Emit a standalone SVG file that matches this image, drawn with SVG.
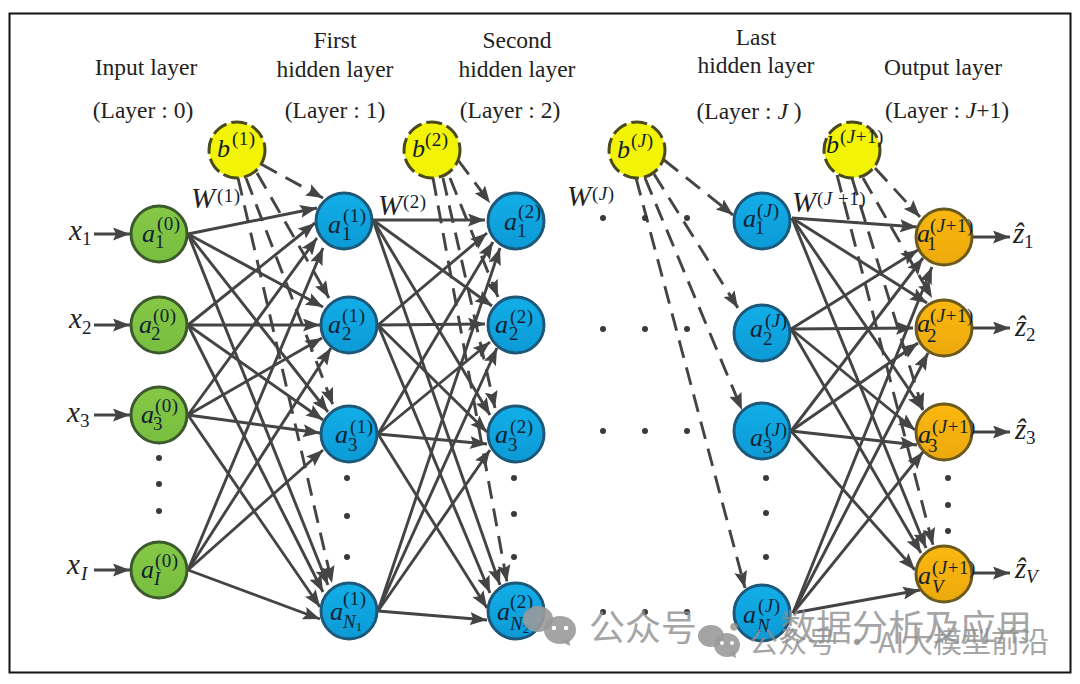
<svg xmlns="http://www.w3.org/2000/svg" width="1080" height="684" viewBox="0 0 1080 684">
<style>
.h{font-family:"Liberation Serif",serif;font-size:23.5px;fill:#222;text-anchor:middle}
.m{font-family:"Liberation Serif",serif;font-style:italic;font-size:26px;fill:#123}
.w0{font-family:"Liberation Serif",serif;font-style:italic;font-size:29px;fill:#222}
.s{font-family:"Liberation Serif",serif;font-size:19px;letter-spacing:.5px;fill:#123}
.si{font-family:"Liberation Serif",serif;font-style:italic;font-size:19px;fill:#123}
.c line{stroke:#444;stroke-width:2.9;marker-end:url(#ah)}
.d line{stroke:#444;stroke-width:2.9;stroke-dasharray:18 10;marker-end:url(#ah)}
.g{fill:url(#gg);stroke:#3d5a2e;stroke-width:3}
.b{fill:url(#gb);stroke:#1d5878;stroke-width:3}
.o{fill:url(#go);stroke:#6a5a1e;stroke-width:3}
.y{fill:#f3f305;stroke:#4a4a20;stroke-width:3;stroke-dasharray:16 5}
.dot{fill:#3a3a3a}
.w{font-family:"Noto Sans CJK SC","Liberation Sans",sans-serif;fill:#8f8f8f;opacity:.8}
.wi{fill:#9a9a9a;opacity:.9}
.we{fill:#fff}
</style>
<defs>
<marker id="ah" markerUnits="userSpaceOnUse" markerWidth="17" markerHeight="13" viewBox="0 0 17 13" refX="17" refY="6.5" orient="auto"><path d="M0,0L17,6.5L0,13L3,6.5z" fill="#444"/></marker>
<linearGradient id="gg" x1="0" y1="0" x2="0" y2="1"><stop offset="0" stop-color="#86c846"/><stop offset="1" stop-color="#78be3f"/></linearGradient>
<linearGradient id="gb" x1="0" y1="0" x2="0" y2="1"><stop offset="0" stop-color="#12aee8"/><stop offset="1" stop-color="#0c9ad6"/></linearGradient>
<linearGradient id="go" x1="0" y1="0" x2="0" y2="1"><stop offset="0" stop-color="#fbb80f"/><stop offset="1" stop-color="#eca90c"/></linearGradient>
</defs>
<rect x="9.5" y="13.5" width="1061" height="659" fill="#fff" stroke="#111" stroke-width="2"/>
<g id="headers">
<text class="h" x="146" y="75">Input layer</text><text class="h" x="143" y="118">(Layer : 0)</text>
<text class="h" x="335" y="48">First</text><text class="h" x="335" y="77">hidden layer</text><text class="h" x="335" y="118">(Layer : 1)</text>
<text class="h" x="517" y="48">Second</text><text class="h" x="517" y="77">hidden layer</text><text class="h" x="510" y="118">(Layer : 2)</text>
<text class="h" x="756" y="45">Last</text><text class="h" x="756" y="73">hidden layer</text><text class="h" x="749" y="119">(Layer : <tspan font-style="italic">J</tspan> )</text>
<text class="h" x="943" y="75">Output layer</text><text class="h" x="947" y="118">(Layer : <tspan font-style="italic">J</tspan>+1)</text>
</g>
<g id="connectors">
<g class="d">
<line x1="261" y1="164" x2="323" y2="198"/><line x1="257" y1="173" x2="329" y2="298"/><line x1="246" y1="178" x2="333" y2="405"/><line x1="238" y1="178" x2="332" y2="583"/>
<line x1="458" y1="160" x2="490" y2="203"/><line x1="450" y1="178" x2="498" y2="297"/><line x1="443" y1="178" x2="495" y2="408"/><line x1="433" y1="178" x2="507" y2="582"/>
<line x1="664" y1="160" x2="733" y2="215"/><line x1="654" y1="174" x2="738" y2="308"/><line x1="645" y1="178" x2="742" y2="410"/><line x1="636" y1="178" x2="745" y2="588"/>
<line x1="875" y1="168" x2="920" y2="217"/><line x1="863" y1="178" x2="932" y2="298"/><line x1="852" y1="178" x2="923" y2="410"/><line x1="837" y1="175" x2="933" y2="545"/>
</g>
<g class="c">
<line x1="188" y1="234" x2="317" y2="208"/><line x1="188" y1="234" x2="323" y2="307"/><line x1="188" y1="234" x2="328" y2="412"/><line x1="188" y1="234" x2="328" y2="585"/>
<line x1="188" y1="325" x2="315" y2="223"/><line x1="188" y1="325" x2="320" y2="325"/><line x1="188" y1="325" x2="323" y2="420"/><line x1="188" y1="325" x2="323" y2="592"/>
<line x1="188" y1="415" x2="317" y2="238"/><line x1="188" y1="415" x2="322" y2="338"/><line x1="188" y1="415" x2="320" y2="433"/><line x1="188" y1="415" x2="320" y2="607"/>
<line x1="188" y1="570" x2="323" y2="248"/><line x1="188" y1="570" x2="331" y2="348"/><line x1="188" y1="570" x2="323" y2="450"/><line x1="188" y1="570" x2="320" y2="619"/>
<line x1="373" y1="220" x2="485" y2="220"/><line x1="373" y1="220" x2="492" y2="306"/><line x1="373" y1="220" x2="490" y2="415"/><line x1="373" y1="220" x2="500" y2="585"/>
<line x1="378" y1="325" x2="487" y2="233"/><line x1="378" y1="325" x2="485" y2="324"/><line x1="378" y1="325" x2="487" y2="432"/><line x1="378" y1="325" x2="490" y2="593"/>
<line x1="378" y1="434" x2="493" y2="242"/><line x1="378" y1="434" x2="490" y2="342"/><line x1="378" y1="434" x2="487" y2="444"/><line x1="378" y1="434" x2="487" y2="608"/>
<line x1="378" y1="611" x2="500" y2="248"/><line x1="378" y1="611" x2="497" y2="348"/><line x1="378" y1="611" x2="490" y2="450"/><line x1="378" y1="611" x2="487" y2="620"/>
<line x1="792" y1="218" x2="917" y2="227"/><line x1="792" y1="218" x2="927" y2="303"/><line x1="792" y1="218" x2="923" y2="410"/><line x1="792" y1="218" x2="926" y2="548"/>
<line x1="791" y1="329" x2="918" y2="250"/><line x1="791" y1="329" x2="913" y2="328"/><line x1="791" y1="329" x2="915" y2="430"/><line x1="791" y1="329" x2="921" y2="553"/>
<line x1="791" y1="431" x2="923" y2="258"/><line x1="791" y1="431" x2="918" y2="343"/><line x1="791" y1="431" x2="917" y2="445"/><line x1="791" y1="431" x2="915" y2="570"/>
<line x1="793" y1="613" x2="932" y2="267"/><line x1="793" y1="613" x2="928" y2="353"/><line x1="793" y1="613" x2="923" y2="452"/><line x1="793" y1="613" x2="920" y2="590"/>
<line x1="94" y1="234" x2="130" y2="234"/><line x1="94" y1="325" x2="130" y2="325"/><line x1="94" y1="415" x2="130" y2="415"/><line x1="94" y1="570" x2="130" y2="570"/>
<line x1="973" y1="237" x2="1010" y2="237"/><line x1="973" y1="328" x2="1010" y2="328"/><line x1="973" y1="432" x2="1010" y2="432"/><line x1="973" y1="573" x2="1010" y2="573"/>
</g>
</g>
<g id="b1"><circle class="y" cx="237" cy="150" r="28"/><text class="m" x="217" y="157">b</text><text class="s" x="232" y="145">(1)</text></g>
<g id="b2"><circle class="y" cx="432" cy="150" r="28"/><text class="m" x="412" y="157">b</text><text class="s" x="425" y="146">(2)</text></g>
<g id="bJ"><circle class="y" cx="637" cy="150" r="28"/><text class="m" x="617" y="158">b</text><text class="s" x="631" y="147">(<tspan font-style="italic">J</tspan>)</text></g>
<g id="bJ1"><circle class="y" cx="852" cy="150" r="28"/><text class="m" x="826" y="153">b</text><text class="s" x="840" y="143">(<tspan font-style="italic">J</tspan>+1)</text></g>
<g id="i1"><circle class="g" cx="159" cy="234" r="28"/><text class="m" x="142" y="242">a</text><text class="s" x="157" y="230">(0)</text><text class="s" x="155" y="248">1</text></g>
<g id="i2"><circle class="g" cx="159" cy="325" r="28"/><text class="m" x="139" y="333">a</text><text class="s" x="153" y="322">(0)</text><text class="s" x="151" y="340">2</text></g>
<g id="i3"><circle class="g" cx="159" cy="415" r="28"/><text class="m" x="141" y="423">a</text><text class="s" x="155" y="412">(0)</text><text class="s" x="153" y="430">3</text></g>
<g id="iI"><circle class="g" cx="159" cy="570" r="28"/><text class="m" x="141" y="578">a</text><text class="s" x="155" y="567">(0)</text><text class="si" x="154" y="585">I</text></g>
<g id="h11"><circle class="b" cx="344" cy="221" r="28"/><text class="m" x="328" y="233">a</text><text class="s" x="343" y="222">(1)</text><text class="s" x="342" y="240">1</text></g>
<g id="h12"><circle class="b" cx="349" cy="325" r="28"/><text class="m" x="328" y="333">a</text><text class="s" x="342" y="322">(1)</text><text class="s" x="342" y="340">2</text></g>
<g id="h13"><circle class="b" cx="349" cy="434" r="28"/><text class="m" x="335" y="443">a</text><text class="s" x="350" y="433">(1)</text><text class="s" x="348" y="451">3</text></g>
<g id="h1N"><circle class="b" cx="349" cy="611" r="28"/><text class="m" x="330" y="620">a</text><text class="s" x="343" y="605">(1)</text><text class="si" x="343" y="628">N<tspan font-size="13" font-style="normal" dy="3">1</tspan></text></g>
<g id="h21"><circle class="b" cx="516" cy="221" r="28"/><text class="m" x="504" y="230">a</text><text class="s" x="518" y="218">(2)</text><text class="s" x="517" y="237">1</text></g>
<g id="h22"><circle class="b" cx="516" cy="325" r="28"/><text class="m" x="495" y="333">a</text><text class="s" x="510" y="323">(2)</text><text class="s" x="509" y="340">2</text></g>
<g id="h23"><circle class="b" cx="516" cy="434" r="28"/><text class="m" x="495" y="443">a</text><text class="s" x="510" y="433">(2)</text><text class="s" x="508" y="451">3</text></g>
<g id="h2N"><circle class="b" cx="516" cy="611" r="28"/><text class="m" x="497" y="620">a</text><text class="s" x="510" y="608">(2)</text><text class="si" x="510" y="630">N<tspan font-size="13" font-style="normal" dy="3">2</tspan></text></g>
<g id="hJ1"><circle class="b" cx="762" cy="221" r="28"/><text class="m" x="743" y="227">a</text><text class="s" x="757" y="217">(<tspan font-style="italic">J</tspan>)</text><text class="s" x="755" y="234">1</text></g>
<g id="hJ2"><circle class="b" cx="762" cy="333" r="28"/><text class="m" x="750" y="337">a</text><text class="s" x="765" y="327">(<tspan font-style="italic">J</tspan>)</text><text class="s" x="763" y="345">2</text></g>
<g id="hJ3"><circle class="b" cx="762" cy="431" r="28"/><text class="m" x="750" y="446">a</text><text class="s" x="765" y="436">(<tspan font-style="italic">J</tspan>)</text><text class="s" x="763" y="453">3</text></g>
<g id="hJN"><circle class="b" cx="762" cy="613" r="28"/><text class="m" x="743" y="623">a</text><text class="s" x="758" y="612">(<tspan font-style="italic">J</tspan>)</text><text class="si" x="757" y="632">N</text></g>
<g id="o1"><circle class="o" cx="944" cy="237" r="28"/><text class="m" x="917" y="242">a</text><text class="s" x="930" y="232">(<tspan font-style="italic">J</tspan>+1)</text><text class="s" x="927" y="250">1</text></g>
<g id="o2"><circle class="o" cx="944" cy="328" r="28"/><text class="m" x="917" y="332">a</text><text class="s" x="930" y="322">(<tspan font-style="italic">J</tspan>+1)</text><text class="s" x="927" y="342">2</text></g>
<g id="o3"><circle class="o" cx="944" cy="432" r="28"/><text class="m" x="918" y="443">a</text><text class="s" x="932" y="433">(<tspan font-style="italic">J</tspan>+1)</text><text class="s" x="928" y="452">3</text></g>
<g id="oV"><circle class="o" cx="944" cy="574" r="28"/><text class="m" x="918" y="584">a</text><text class="s" x="932" y="574">(<tspan font-style="italic">J</tspan>+1)</text><text class="si" x="932" y="593">V</text></g>
<g id="inputs">
<text class="w0" x="69" y="240">x</text><text class="s" x="82" y="245">1</text>
<text class="w0" x="69" y="328">x</text><text class="s" x="82" y="334">2</text>
<text class="w0" x="67" y="422">x</text><text class="s" x="80" y="427">3</text>
<text class="w0" x="67" y="574">x</text><text class="si" x="81" y="580">I</text>
</g>
<g id="outputs">
<text class="w0" x="1013" y="243">ẑ</text><text class="s" x="1024" y="248">1</text>
<text class="w0" x="1015" y="336">ẑ</text><text class="s" x="1026" y="341">2</text>
<text class="w0" x="1015" y="439">ẑ</text><text class="s" x="1026" y="444">3</text>
<text class="w0" x="1015" y="578">ẑ</text><text class="si" x="1026" y="583">V</text>
</g>
<g id="weights">
<text class="w0" x="191" y="208">W</text><text class="s" x="217" y="202">(1)</text>
<text class="w0" x="378" y="215">W</text><text class="s" x="403" y="208">(2)</text>
<text class="w0" x="567" y="206">W</text><text class="s" x="592" y="200">(<tspan font-style="italic">J</tspan>)</text>
<text class="w0" x="792" y="212">W</text><text class="s" x="817" y="205">(<tspan font-style="italic">J</tspan> +1)</text>
</g>
<g id="dots">
<circle class="dot" cx="159" cy="458" r="3"/><circle class="dot" cx="159" cy="484" r="3"/><circle class="dot" cx="159" cy="511" r="3"/>
<circle class="dot" cx="347" cy="478" r="3"/><circle class="dot" cx="347" cy="516" r="3"/><circle class="dot" cx="347" cy="557" r="3"/>
<circle class="dot" cx="514" cy="478" r="3"/><circle class="dot" cx="514" cy="514" r="3"/><circle class="dot" cx="514" cy="557" r="3"/>
<circle class="dot" cx="766" cy="478" r="3"/><circle class="dot" cx="766" cy="513" r="3"/><circle class="dot" cx="766" cy="557" r="3"/>
<circle class="dot" cx="948" cy="478" r="3"/><circle class="dot" cx="948" cy="505" r="3"/><circle class="dot" cx="948" cy="531" r="3"/>
<circle class="dot" cx="603" cy="218" r="3"/><circle class="dot" cx="645" cy="218" r="3"/><circle class="dot" cx="687" cy="218" r="3"/>
<circle class="dot" cx="603" cy="329" r="3"/><circle class="dot" cx="645" cy="329" r="3"/><circle class="dot" cx="687" cy="329" r="3"/>
<circle class="dot" cx="603" cy="431" r="3"/><circle class="dot" cx="645" cy="431" r="3"/><circle class="dot" cx="687" cy="431" r="3"/>
<circle class="dot" cx="603" cy="612" r="3"/><circle class="dot" cx="645" cy="612" r="3"/><circle class="dot" cx="687" cy="612" r="3"/>
</g>
<g id="watermarks">
<ellipse class="wi" cx="538" cy="619" rx="15" ry="13"/><ellipse class="wi" cx="560" cy="630" rx="16" ry="14"/><path class="wi" d="M562,642l8,4l-1,-8z"/>
<circle class="we" cx="554" cy="628" r="2.2"/><circle class="we" cx="566" cy="628" r="2.2"/>
<ellipse class="wi" cx="711" cy="636" rx="13" ry="11"/><ellipse class="wi" cx="727" cy="645" rx="13" ry="12"/><path class="wi" d="M729,655l7,3l-1,-7z"/>
<circle class="we" cx="722" cy="643" r="2"/><circle class="we" cx="732" cy="643" r="2"/>
<text class="w" x="589" y="641" font-size="36">公众号<tspan x="708"> · </tspan><tspan x="780">数据分析及应用</tspan></text>
<text class="w" x="749" y="653" font-size="29">公众号 · AI大模型前沿</text>
</g>
</svg>
